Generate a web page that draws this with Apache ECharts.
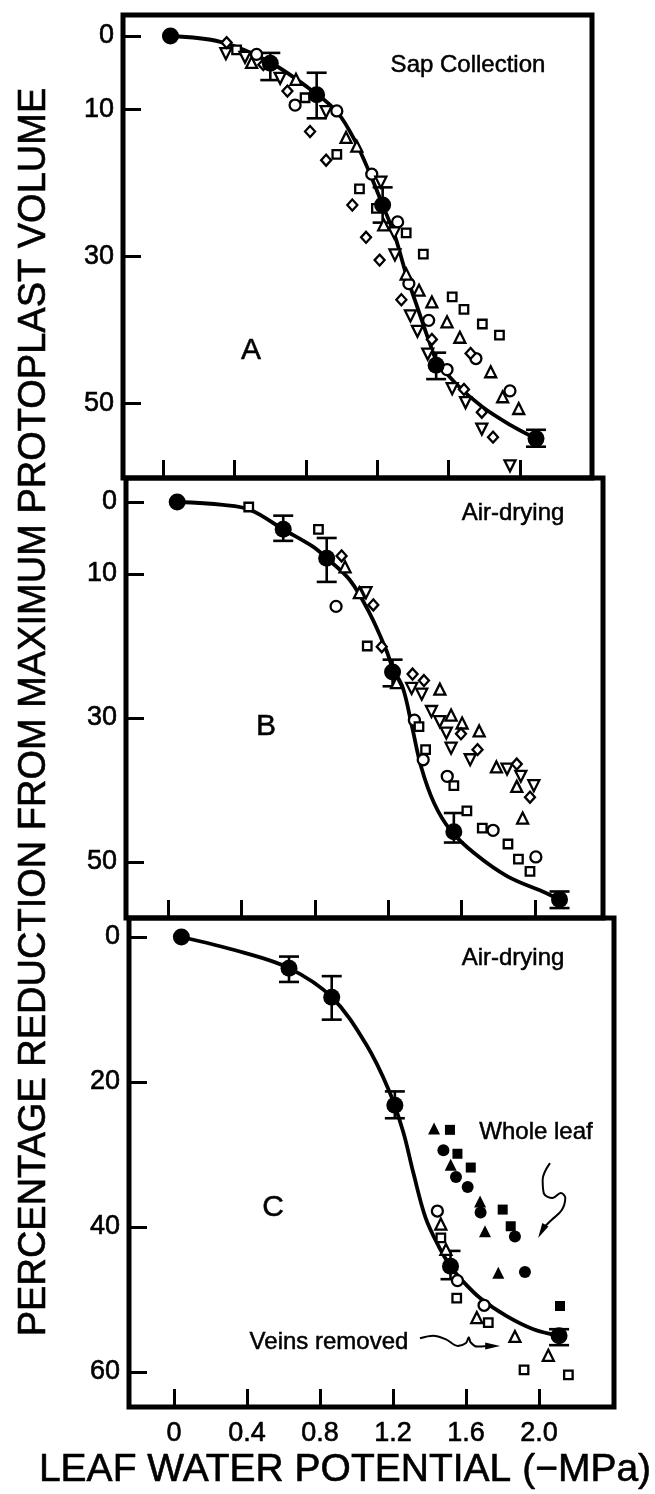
<!DOCTYPE html>
<html>
<head>
<meta charset="utf-8">
<title>Protoplast volume vs leaf water potential</title>
<script src="https://cdn.jsdelivr.net/npm/echarts@6/dist/echarts.min.js"></script>
<style>
  html, body { margin: 0; padding: 0; background: #fff; }
  #chart { width: 655px; height: 1494px; }
</style>
</head>
<body>
<div id="chart"></div>
<script>
// ticks
const xTickValues = [0, 0.4, 0.8, 1.2, 1.6, 2.0];
const xTickLabels = ['0', '0.4', '0.8', '1.2', '1.6', '2.0'];
const yTicksAB = [0, 10, 30, 50];
const yTicksC = [0, 20, 40, 60];

// panel A - sap collection
const meansA = [[0.04, 0], [0.6, 3.7], [0.86, 8.0], [1.23, 23.0], [1.53, 44.8], [2.09, 54.8]];
const errA = [[0.6, 2.3, 6.0], [0.86, 5.0, 11.2], [1.23, 20.6, 25.4], [1.53, 43.1, 46.7], [2.09, 53.6, 55.9]];
const curveA = [[0.04, 0], [0.32, 0.8], [0.6, 3.6], [0.86, 7.9], [0.98, 10.5], [1.08, 14.5], [1.16, 18.8],
  [1.23, 23.0], [1.30, 27.3], [1.36, 32.3], [1.43, 37.3], [1.49, 41.5], [1.53, 44.0], [1.64, 47.3],
  [1.79, 50.5], [1.95, 53.0], [2.09, 54.8]];
const circleA = [[0.523, 2.5], [0.739, 9.4], [0.973, 10.2], [1.169, 18.8], [1.314, 25.3], [1.377, 33.7],
  [1.488, 38.7], [1.591, 45.4], [1.753, 43.9], [1.944, 48.3]];
const squareA = [[0.411, 1.9], [0.795, 8.4], [0.973, 16.1], [1.1, 20.8], [1.195, 23.45], [1.362, 26.8],
  [1.458, 29.7], [1.62, 35.5], [1.686, 37.2], [1.789, 39.2], [1.885, 40.7]];
const triUpA = [[0.495, 3.6], [0.744, 5.9], [1.025, 13.8], [1.085, 15.0], [1.236, 25.7], [1.362, 32.4],
  [1.434, 34.6], [1.506, 36.2], [1.591, 38.9], [1.663, 41.0], [1.836, 45.7], [1.903, 49.1], [1.993, 50.7]];
const triDownA = [[0.351, 2.4], [0.458, 2.9], [0.655, 5.76], [0.913, 10.3], [1.22, 19.9], [1.295, 26.8],
  [1.299, 29.8], [1.386, 38.1], [1.425, 40.2], [1.483, 43.3], [1.62, 48.0], [1.695, 49.9], [1.786, 53.5],
  [1.944, 58.5]];
const diamondA = [[0.355, 0.9], [0.561, 3.9], [0.696, 7.5], [0.823, 13.0], [0.913, 16.9], [1.06, 23.0],
  [1.137, 27.4], [1.213, 30.5], [1.335, 35.9], [1.506, 41.3], [1.723, 43.2], [1.686, 48.1], [1.786, 51.2],
  [1.849, 54.6]];

// panel B - air-drying
const meansB = [[0.05, 0], [0.628, 3.8], [0.865, 7.8], [1.224, 23.6], [1.558, 45.8], [2.134, 55.2]];
const errB = [[0.628, 1.9, 5.4], [0.865, 5.0, 11.1], [1.224, 21.9, 25.6], [1.558, 43.2, 47.3], [2.134, 54.1, 56.4]];
const curveB = [[0.05, 0], [0.3, 0.4], [0.45, 1.1], [0.628, 3.8], [0.79, 6.2], [0.865, 7.8], [0.99, 10.8],
  [1.1, 15.5], [1.19, 20.6], [1.224, 23.0], [1.28, 25.8], [1.33, 31.2], [1.38, 36.8], [1.45, 41.8],
  [1.54, 45.6], [1.67, 48.8], [1.85, 52.0], [2.06, 54.3], [2.134, 55.2]];
const circleB = [[0.916, 14.5], [1.343, 30.3], [1.391, 35.8], [1.522, 38.1], [1.772, 45.6], [2.005, 49.3]];
const squareB = [[0.44, 0.7], [0.82, 3.8], [1.086, 20.0], [1.368, 31.2], [1.404, 34.4], [1.558, 39.4],
  [1.629, 42.9], [1.713, 45.3], [1.853, 47.5], [1.91, 49.6], [1.973, 51.3]];
const triUpB = [[0.965, 9.0], [1.043, 12.6], [1.246, 25.1], [1.482, 26.0], [1.543, 29.6], [1.603, 30.7],
  [1.696, 31.8], [1.79, 36.8], [1.901, 39.5], [1.933, 43.9]];
const triDownB = [[1.079, 12.6], [1.328, 25.9], [1.383, 26.7], [1.436, 29.1], [1.481, 30.5], [1.517, 32.1],
  [1.543, 34.2], [1.647, 35.8], [1.848, 37.1], [1.923, 38.1], [1.994, 39.4]];
const diamondB = [[0.946, 7.5], [1.119, 14.3], [1.165, 20.1], [1.333, 23.9], [1.395, 24.8], [1.597, 32.2],
  [1.687, 34.4], [1.901, 36.4], [1.973, 41.0]];

// panel C - air-drying, whole leaf vs veins removed
const meansC = [[0.04, 0], [0.63, 4.3], [0.864, 8.3], [1.21, 23.2], [1.515, 45.4], [2.11, 55.0]];
const errC = [[0.63, 2.7, 6.2], [0.864, 5.4, 11.4], [1.21, 21.3, 25.0], [1.515, 43.3, 47.2], [2.11, 54.1, 56.3]];
const curveC = [[0.04, 0], [0.36, 2.0], [0.63, 4.3], [0.864, 8.3], [1.05, 14.7], [1.18, 21.3], [1.256, 26.9],
  [1.312, 32.6], [1.378, 38.7], [1.453, 42.8], [1.515, 45.4], [1.576, 47.3], [1.677, 49.8], [1.823, 52.3],
  [1.969, 54.1], [2.11, 55.0]];
const wholeTriC = [[1.425, 26.4], [1.516, 31.4], [1.677, 36.5], [1.704, 40.6], [1.777, 46.3]];
const wholeSqC = [[1.512, 26.6], [1.553, 29.9], [1.626, 31.8], [1.801, 37.6], [1.845, 39.9], [2.115, 50.9]];
const wholeCirC = [[1.476, 29.4], [1.545, 33.1], [1.609, 34.5], [1.68, 38.0], [1.868, 41.3], [1.923, 46.2]];
const veinCirC = [[1.443, 37.8], [1.553, 47.4], [1.699, 50.8]];
const veinTriC = [[1.462, 39.6], [1.49, 43.1], [1.659, 52.5], [1.868, 55.1], [2.051, 57.7]];
const veinSqC = [[1.462, 41.5], [1.549, 49.8], [1.722, 53.2], [1.918, 59.7], [2.161, 60.4]];

// annotation arrows (panel C coords)
const wholeArrow = [[2.060, 31.2], [2.020, 33.5], [2.027, 35.4], [2.075, 36.0], [2.119, 35.3], [2.144, 36.0],
  [2.124, 37.7], [2.07, 39.0], [2.033, 39.9]];
const wholeArrowHead = [[2.015, 40.6]];
const veinArrow = [[1.348, 55.35], [1.42, 55.0], [1.49, 55.5], [1.555, 56.4], [1.60, 56.0], [1.615, 55.2],
  [1.625, 55.9], [1.66, 56.5], [1.72, 56.4]];
const veinArrowHead = [[1.746, 56.4]];

const FONT = 'Liberation Sans, Arial, Helvetica, sans-serif';

const grids = [
  { left: 123, top: 15, width: 469, height: 463, xmin: -0.226, xmax: 2.404, ymin: -2.86, ymax: 60.16, yTicks: yTicksAB },
  { left: 126, top: 478, width: 477, height: 440, xmin: -0.229, xmax: 2.371, ymin: -3.33, ymax: 57.78, yTicks: yTicksAB },
  { left: 129, top: 918, width: 485, height: 489, xmin: -0.247, xmax: 2.411, ymin: -2.62, ymax: 64.83, yTicks: yTicksC }
];

function lineSeries(gi, data, width) {
  return {
    type: 'line', xAxisIndex: gi, yAxisIndex: gi, data: data, smooth: 0.35, symbol: 'none', z: 2,
    lineStyle: { color: '#000', width: width }, silent: true
  };
}

function markSeries(gi, data, symbol, size, rotate, filled, bw) {
  return {
    type: 'scatter', xAxisIndex: gi, yAxisIndex: gi, data: data, symbol: symbol, symbolSize: size,
    symbolRotate: rotate || 0, z: filled ? 5 : 4, silent: true,
    itemStyle: { color: filled ? '#000' : '#fff', borderColor: '#000', borderWidth: bw == null ? 2.3 : bw, opacity: 1 }
  };
}

function errorSeries(gi, data) {
  return {
    type: 'custom', xAxisIndex: gi, yAxisIndex: gi, data: data, z: 3, silent: true,
    encode: { x: 0, y: [1, 2] },
    renderItem: function (params, api) {
      const x = api.value(0);
      const a = api.coord([x, api.value(1)]);
      const b = api.coord([x, api.value(2)]);
      const w = 10;
      const st = { stroke: '#000', lineWidth: 2.6 };
      return {
        type: 'group', children: [
          { type: 'line', shape: { x1: a[0], y1: a[1], x2: b[0], y2: b[1] }, style: st },
          { type: 'line', shape: { x1: a[0] - w, y1: a[1], x2: a[0] + w, y2: a[1] }, style: st },
          { type: 'line', shape: { x1: b[0] - w, y1: b[1], x2: b[0] + w, y2: b[1] }, style: st }
        ]
      };
    }
  };
}

function panelText(text, x, y, size) {
  return {
    type: 'text', x: x, y: y, z: 10, silent: true,
    style: { text: text, fill: '#000', fontSize: size, fontFamily: FONT, align: 'center', verticalAlign: 'middle',
      stroke: '#000', lineWidth: 0.5 }
  };
}

const series = [
  lineSeries(0, curveA, 3.8), errorSeries(0, errA),
  markSeries(0, circleA, 'circle', 11), markSeries(0, squareA, 'rect', 8.5),
  markSeries(0, triUpA, 'triangle', 11), markSeries(0, triDownA, 'triangle', 11, 180),
  markSeries(0, diamondA, 'diamond', [10, 11]), markSeries(0, meansA, 'circle', 17, 0, true, 0),

  lineSeries(1, curveB, 3.8), errorSeries(1, errB),
  markSeries(1, circleB, 'circle', 11), markSeries(1, squareB, 'rect', 8.5),
  markSeries(1, triUpB, 'triangle', 11), markSeries(1, triDownB, 'triangle', 11, 180),
  markSeries(1, diamondB, 'diamond', [10, 11]), markSeries(1, meansB, 'circle', 17, 0, true, 0),

  lineSeries(2, curveC, 3.8), errorSeries(2, errC),
  markSeries(2, veinCirC, 'circle', 11), markSeries(2, veinTriC, 'triangle', 11),
  markSeries(2, veinSqC, 'rect', 8.5),
  markSeries(2, wholeTriC, 'triangle', 12, 0, true, 0), markSeries(2, wholeSqC, 'rect', 10, 0, true, 0),
  markSeries(2, wholeCirC, 'circle', 12, 0, true, 0), markSeries(2, meansC, 'circle', 17, 0, true, 0),

  lineSeries(2, wholeArrow, 2), lineSeries(2, veinArrow, 2),
  markSeries(2, wholeArrowHead, 'triangle', [7, 15], 151, true, 0),
  markSeries(2, veinArrowHead, 'triangle', [7, 15], -90, true, 0)
];

const chart = echarts.init(document.getElementById('chart'), null, { renderer: 'canvas' });
chart.setOption({
  backgroundColor: '#fff',
  animation: false,
  grid: grids.map(g => ({
    left: g.left, top: g.top, width: g.width, height: g.height,
    show: true, borderColor: '#000', borderWidth: 5, backgroundColor: 'transparent'
  })),
  xAxis: grids.map((g, i) => ({
    type: 'value', gridIndex: i, min: g.xmin, max: g.xmax, position: 'bottom',
    axisLine: { show: false, onZero: false }, splitLine: { show: false },
    axisTick: { show: true, inside: true, length: 18, customValues: xTickValues, lineStyle: { color: '#000', width: 3 } },
    axisLabel: {
      show: i === 2, customValues: xTickValues, margin: 13, color: '#000', fontSize: 27, fontFamily: FONT,
      textBorderColor: '#000', textBorderWidth: 0.6,
      formatter: v => xTickLabels[Math.round(v / 0.4)]
    }
  })),
  yAxis: grids.map((g, i) => ({
    type: 'value', gridIndex: i, min: g.ymin, max: g.ymax, inverse: true, position: 'left',
    axisLine: { show: false, onZero: false }, splitLine: { show: false },
    axisTick: { show: true, inside: true, length: 18, customValues: g.yTicks, lineStyle: { color: '#000', width: 3 } },
    axisLabel: { show: true, customValues: g.yTicks, margin: 9, color: '#000', fontSize: 27, fontFamily: FONT,
      textBorderColor: '#000', textBorderWidth: 0.6 }
  })),
  graphic: [
    panelText('Sap Collection', 468, 65, 24),
    panelText('A', 251, 351, 30),
    panelText('Air-drying', 513, 513, 24),
    panelText('B', 266, 727, 30),
    panelText('Air-drying', 513, 958, 24),
    panelText('C', 273, 1208, 30),
    panelText('Whole leaf', 536, 1132, 24),
    panelText('Veins removed', 329, 1342, 24),
    {
      type: 'text', x: 35, y: 712, rotation: Math.PI / 2, silent: true,
      style: { text: 'PERCENTAGE REDUCTION FROM MAXIMUM PROTOPLAST VOLUME', fill: '#000',
        fontSize: 38, fontFamily: FONT, align: 'center', verticalAlign: 'middle', stroke: '#000', lineWidth: 0.6 }
    },
    {
      type: 'text', x: 345, y: 1470, silent: true,
      style: { text: 'LEAF WATER POTENTIAL (\u2212MPa)', fill: '#000',
        fontSize: 39, fontFamily: FONT, align: 'center', verticalAlign: 'middle', stroke: '#000', lineWidth: 0.6 }
    }
  ],
  series: series
});
</script>
</body>
</html>
